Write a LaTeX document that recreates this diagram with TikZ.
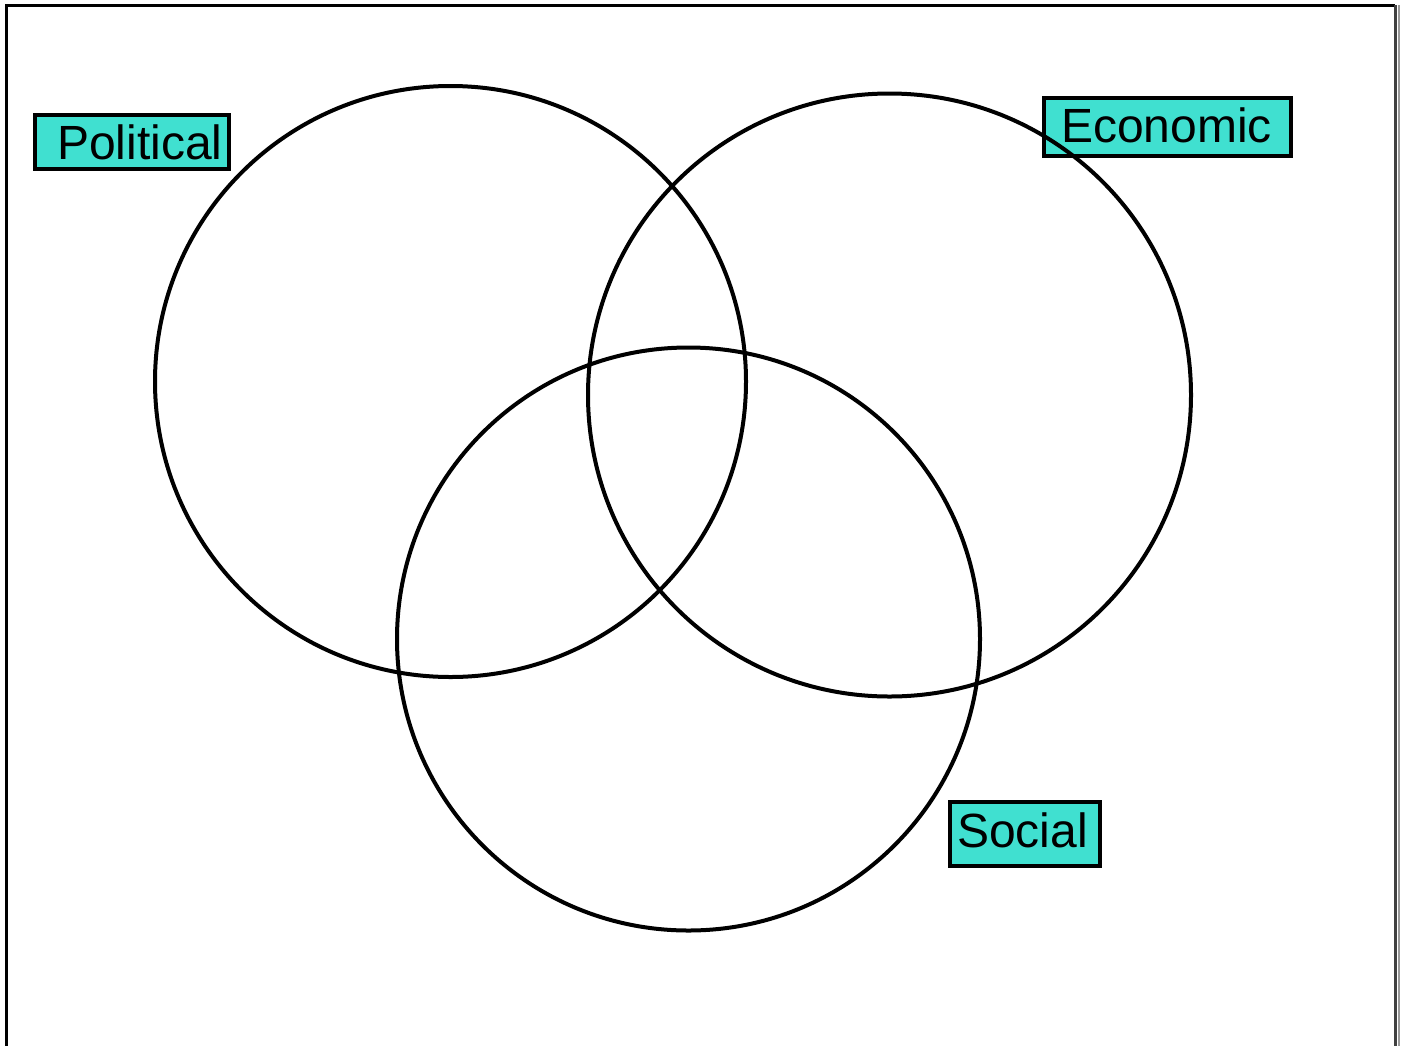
\documentclass[tikz,border=0pt]{standalone}
\usepackage{fontspec}
\setmainfont{Liberation Sans}
\definecolor{turq}{HTML}{40E0D0}
\begin{document}
\begin{tikzpicture}[x=1pt,y=-1pt,
  ring/.style={draw=black,line width=4pt},
  tagbox/.style={draw=black,fill=turq,line width=4pt,rectangle,inner sep=0pt},
  tagtext/.style={anchor=base west,inner sep=0pt,font=\fontsize{48}{50}\selectfont}]
\useasboundingbox (0,0) rectangle (1408,1045);
\fill[white] (0,0) rectangle (1408,1045);
% frame
\draw[line width=3pt,black] (6,1046) -- (6,5) -- (1395,5);
\draw[line width=3pt,black!75] (1395,5) -- (1395,1046);
\draw[line width=2pt,black!40] (1398.5,5) -- (1398.5,1046);
% labels
\node[tagbox,minimum width=194pt,minimum height=54pt] (polbox) at (132,142) {};
\node[tagtext] (pol) at (57,159) {Political};
\node[tagbox,minimum width=247pt,minimum height=58pt] (ecobox) at (1167,126.5) {};
\node[tagtext] (eco) at (1061,142) {Economic};
\node[tagbox,minimum width=150pt,minimum height=64pt] (socbox) at (1024.5,834) {};
\node[tagtext] (soc) at (957,847) {Social};
% circles
\draw[ring] (450.5,381.5) circle[radius=295.5];
\draw[ring] (889.5,395) circle[radius=301.5];
\draw[ring] (688.5,639) circle[radius=291.5];
\end{tikzpicture}
\end{document}
